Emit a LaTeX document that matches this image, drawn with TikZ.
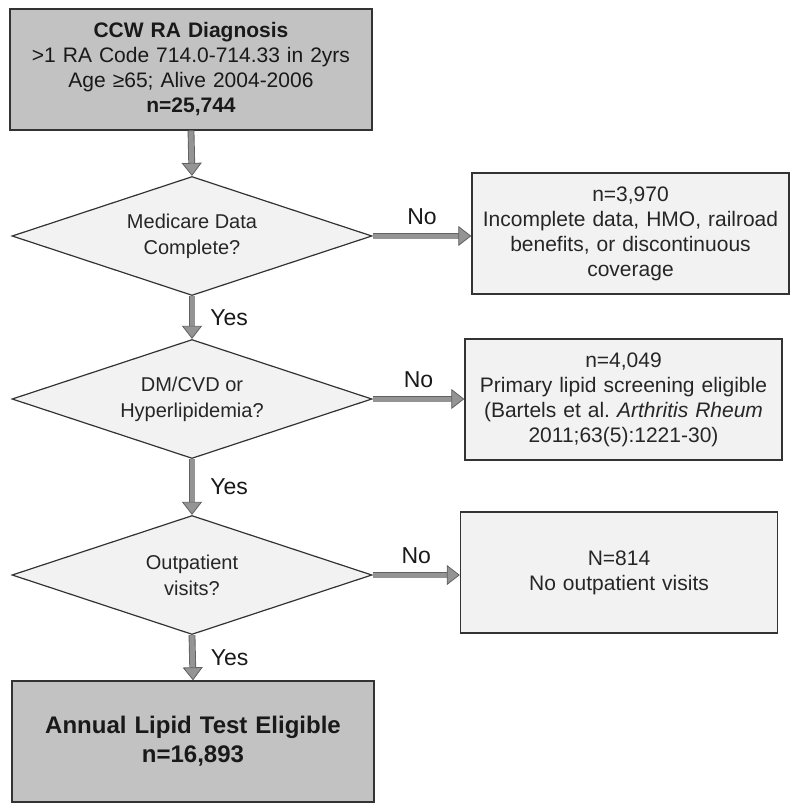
\documentclass[tikz,border=0pt]{standalone}
\usepackage{fontspec}
\setmainfont{Liberation Sans}
\usetikzlibrary{shapes.geometric,arrows.meta}

\tikzset{
  mainbox/.style={rectangle,draw=black!80,line width=1.4pt,fill=black!24,
    minimum width=362pt,minimum height=121pt,inner sep=0pt,text width=356pt,
    align=center,text=black!90},
  sidebox/.style={rectangle,draw=black!80,line width=1.4pt,fill=black!5,
    minimum width=317pt,minimum height=121pt,inner sep=0pt,text width=313pt,
    align=center,text=black!85,font=\fontsize{21}{25}\selectfont},
  question/.style={diamond,draw=black!80,line width=1.2pt,fill=black!5,
    minimum width=360pt,minimum height=119pt,inner sep=0pt,aspect=3,
    align=center,text=black!85,font=\fontsize{20}{26}\selectfont},
  flowarrow/.style={double=black!42,double distance=5pt,line width=0.9pt,draw=black!62,
    -{Triangle[width=20pt,length=13pt,line width=0.8pt,color=black!62,fill=black!42]}},
  answer/.style={inner sep=1pt,text=black!90,font=\fontsize{23}{26}\selectfont}
}

\begin{document}
\frenchspacing
\begin{tikzpicture}[x=1pt,y=-1pt]
\useasboundingbox (0,0) rectangle (800,811);

% main column
\node[mainbox,font=\fontsize{21}{25}\selectfont] (ccw) at (191,69.5)
  {\textbf{CCW RA Diagnosis}\\ >1 RA Code 714.0-714.33 in 2yrs\\ Age ≥65; Alive 2004-2006\\ \textbf{n=25,744}};
\node[question] (medicare) at (192,236) {Medicare Data\\ Complete?};
\node[question] (dmcvd) at (192,399) {DM/CVD or\\ Hyperlipidemia?};
\node[question] (outpat) at (192,575) {Outpatient\\ visits?};
\node[mainbox,font=\fontsize{24}{29}\selectfont\bfseries] (eligible) at (193,741.5)
  {Annual Lipid Test Eligible\\ n=16,893};

% exclusions
\node[sidebox] (excl1) at (630.5,233.5)
  {n=3,970\\ Incomplete data, HMO, railroad\\ benefits, or discontinuous\\ coverage};
\node[sidebox] (excl2) at (623.5,399.5)
  {n=4,049\\ Primary lipid screening eligible\\ (Bartels et al.\ \textit{Arthritis Rheum}\\ 2011;63(5):1221-30)};
\node[sidebox] (excl3) at (619,572.5)
  {N=814\\ No outpatient visits};

% connectors
\draw[flowarrow] (ccw.south) -- (medicare.north);
\draw[flowarrow] (medicare.south) -- node[answer,midway,right=17pt] {Yes} (dmcvd.north);
\draw[flowarrow] (dmcvd.south) -- node[answer,midway,right=17pt] {Yes} (outpat.north);
\draw[flowarrow] (outpat.south) -- node[answer,midway,right=17pt] {Yes} (eligible.north);

\draw[flowarrow] (medicare.east) -- node[answer,midway,above=10pt] {No} (medicare.east -| excl1.west);
\draw[flowarrow] (dmcvd.east) -- node[answer,midway,above=10pt] {No} (dmcvd.east -| excl2.west);
\draw[flowarrow] (outpat.east) -- node[answer,midway,above=10pt] {No} (outpat.east -| excl3.west);
\end{tikzpicture}
\end{document}
